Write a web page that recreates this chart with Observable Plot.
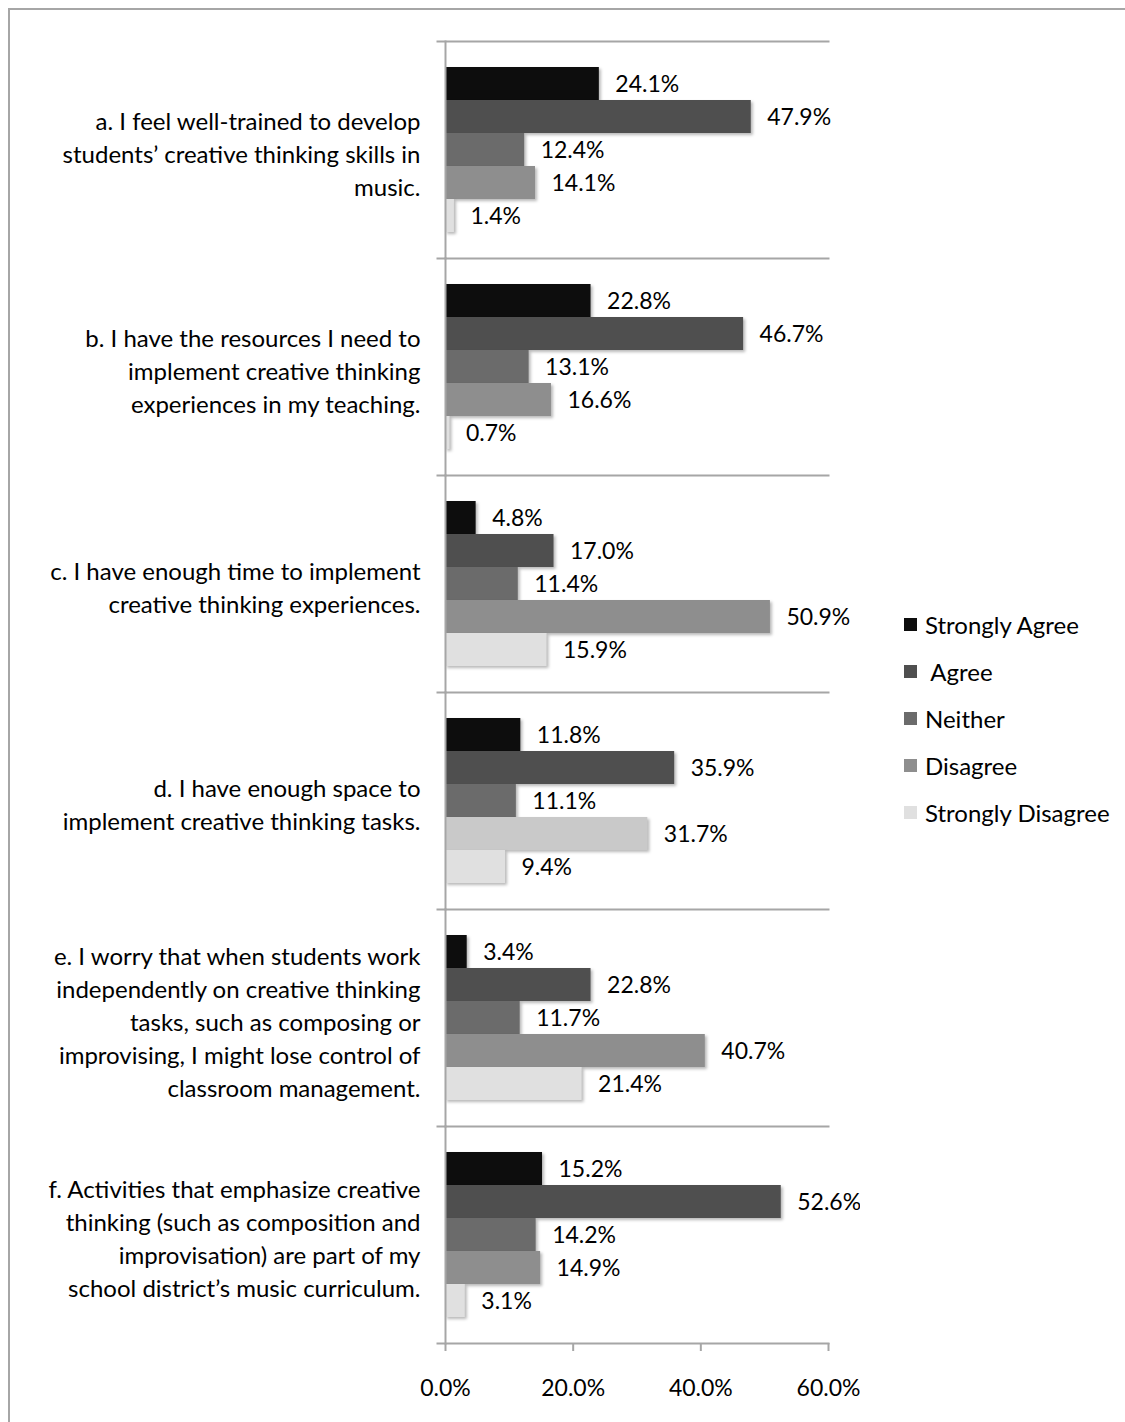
<!DOCTYPE html>
<html>
<head>
<meta charset="utf-8">
<script src="https://cdn.jsdelivr.net/npm/d3@7"></script>
<script src="https://cdn.jsdelivr.net/npm/@observablehq/plot@0.6"></script>
<style>
  body { margin: 0; background: #fff; font-family: Lato, sans-serif; }
  #page { position: relative; width: 1125px; height: 1422px; overflow: hidden; background: #fff; }
  #border { position: absolute; left: 8px; top: 8px; width: 1140px; height: 1440px; border: 2px solid #a6a6a6; box-sizing: border-box; }
  #chart { position: absolute; left: 0; top: 0; }
  #legend { position: absolute; left: 904px; top: 601px; font-family: Lato, sans-serif; font-size: 24px; color: #000; }
  .item { height: 47px; display: flex; align-items: center; white-space: pre; }
  .sw { width: 13px; height: 13px; margin-right: 8px; flex: none; }
  g[aria-label="bar"] rect { filter: drop-shadow(2px 2px 1.5px rgba(0,0,0,0.28)); }
</style>
</head>
<body>
<div id="page">
  <div id="border"></div>
  <div id="chart"></div>
  <div id="legend"></div>
</div>
<script>
// ---- data ----
const questions = [
  "a. I feel well-trained to develop\nstudents\u2019 creative thinking skills in\nmusic.",
  "b. I have the resources I need to\nimplement creative thinking\nexperiences in my teaching.",
  "c. I have enough time to implement\ncreative thinking experiences.",
  "d. I have enough space to\nimplement creative thinking tasks.",
  "e. I worry that when students work\nindependently on creative thinking\ntasks, such as composing or\nimprovising, I might lose control of\nclassroom management.",
  "f. Activities that emphasize creative\nthinking (such as composition and\nimprovisation) are part of my\nschool district\u2019s music curriculum."
];
const responses = ["Strongly Agree", " Agree", "Neither", "Disagree", "Strongly Disagree"];
const pctA = [24.1, 47.9, 12.4, 14.1, 1.4];
const pctB = [22.8, 46.7, 13.1, 16.6, 0.7];
const pctC = [4.8, 17.0, 11.4, 50.9, 15.9];
const pctD = [11.8, 35.9, 11.1, 31.7, 9.4];
const pctE = [3.4, 22.8, 11.7, 40.7, 21.4];
const pctF = [15.2, 52.6, 14.2, 14.9, 3.1];
const xTicks = [0, 20, 40, 60];

// ---- styles ----
const colors = ["#0d0d0d", "#4f4f4f", "#6b6b6b", "#8e8e8e", "#e0e0e0"];
const oddColor = "#c9c9c9"; // question d "Disagree" bar drawn lighter in the original
const axisGray = "#a6a6a6";

const series = [pctA, pctB, pctC, pctD, pctE, pctF];
const rows = [];
questions.forEach((q, qi) => {
  responses.forEach((r, ri) => rows.push({q, r, ri, qi, v: series[qi][ri]}));
});
const fillOf = d => (d.qi === 3 && d.ri === 3) ? oddColor : colors[d.ri];
const fmt = v => v.toFixed(1) + "%";

const chart = Plot.plot({
  width: 860,
  height: 1422,
  marginLeft: 445,
  marginRight: 32,
  marginTop: 38,
  marginBottom: 77,
  style: { fontFamily: "Lato, sans-serif", color: "#000", background: "transparent" },
  x: { domain: [0, 60] },
  y: { domain: responses, paddingInner: 0, paddingOuter: 0.765, axis: null },
  fy: { domain: questions, padding: 0, axis: null },
  marks: [
    Plot.barX(rows, { x: "v", y: "r", fy: "q", fill: fillOf }),
    Plot.text(rows, { x: "v", y: "r", fy: "q", text: d => fmt(d.v), textAnchor: "start", dx: 16, dy: 1, fontSize: 23, fill: "#000" }),
    Plot.frame({ anchor: "top", stroke: axisGray, strokeWidth: 2, insetLeft: -8 }),
    Plot.frame({ anchor: "left", stroke: axisGray, strokeWidth: 2 }),
    Plot.frame({ anchor: "bottom", fy: [questions[questions.length - 1]], stroke: axisGray, strokeWidth: 2, insetLeft: -8 }),
    Plot.axisFy({ anchor: "left", label: null, tickSize: 0, tickPadding: 25, fontSize: 24, lineHeight: 1.375, textAnchor: "end", fill: "#000", dy: 2 }),
    Plot.axisX({ anchor: "bottom", ticks: xTicks, tickFormat: fmt, tickSize: 8, tickPadding: 28, fontSize: 23, stroke: axisGray, strokeWidth: 2, label: null, fill: "#000" })
  ]
});
document.getElementById("chart").appendChild(chart);

// legend
const legend = document.getElementById("legend");
responses.forEach((r, i) => {
  const item = document.createElement("div");
  item.className = "item";
  const sw = document.createElement("span");
  sw.className = "sw";
  sw.style.background = colors[i];
  const t = document.createElement("span");
  t.textContent = r;
  item.appendChild(sw);
  item.appendChild(t);
  legend.appendChild(item);
});
</script>
</body>
</html>
